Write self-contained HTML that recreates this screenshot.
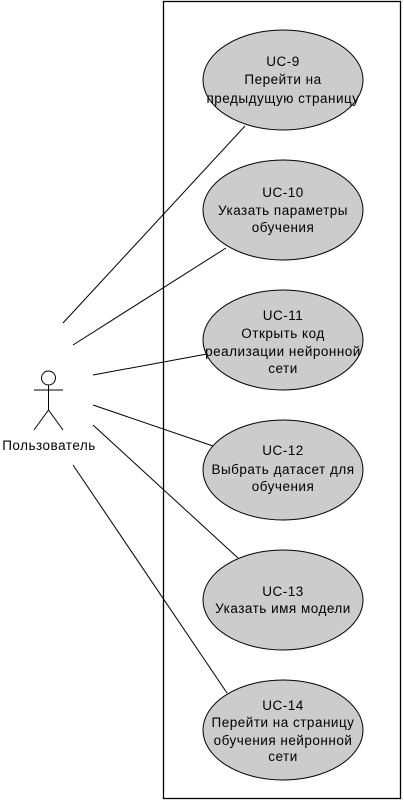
<!DOCTYPE html>
<html><head><meta charset="utf-8"><style>
html,body{margin:0;padding:0;background:#fff;}
svg{display:block;}
text{font-family:"Liberation Sans","DejaVu Sans",sans-serif;font-size:13.5px;letter-spacing:0.5px;fill:#000;}
</style></head><body>
<svg width="404" height="801" viewBox="0 0 404 801" xmlns="http://www.w3.org/2000/svg">
<rect x="163.5" y="1.5" width="237" height="797" fill="#fff" stroke="#000" stroke-width="1.3"/>
<g stroke="#000" stroke-width="1" fill="none">
<line x1="63" y1="323" x2="245" y2="126"/>
<line x1="73" y1="345" x2="226" y2="248"/>
<line x1="93" y1="375" x2="207" y2="354"/>
<line x1="93" y1="405" x2="213" y2="446"/>
<line x1="93" y1="425" x2="238" y2="558"/>
<line x1="73" y1="465" x2="227" y2="693"/>
</g>
<g fill="#cccccc" stroke="#000" stroke-width="1">
<ellipse cx="283" cy="80" rx="80" ry="50"/>
<ellipse cx="283" cy="210" rx="80" ry="50"/>
<ellipse cx="283" cy="340" rx="80" ry="50"/>
<ellipse cx="283" cy="470" rx="80" ry="50"/>
<ellipse cx="283" cy="600" rx="80" ry="50"/>
<ellipse cx="283" cy="730" rx="80" ry="50"/>
</g>
<g text-anchor="middle">
<text x="283" y="66">UC-9</text><text x="283" y="84">Перейти на</text><text x="283" y="103">предыдущую страницу</text>
<text x="283" y="197">UC-10</text><text x="283" y="215">Указать параметры</text><text x="283" y="232">обучения</text>
<text x="283" y="320">UC-11</text><text x="283" y="338">Открыть код</text><text x="283" y="356">реализации нейронной</text><text x="283" y="373">сети</text>
<text x="283" y="455">UC-12</text><text x="283" y="474">Выбрать датасет для</text><text x="283" y="491">обучения</text>
<text x="283" y="596">UC-13</text><text x="283" y="613">Указать имя модели</text>
<text x="283" y="710">UC-14</text><text x="283" y="727">Перейти на страницу</text><text x="283" y="745">обучения нейронной</text><text x="283" y="761">сети</text>
<text x="49" y="450">Пользователь</text>
</g>
<g stroke="#000" stroke-width="1" fill="#fff">
<circle cx="48.5" cy="378" r="7"/>
<line x1="48.5" y1="385" x2="48.5" y2="410"/>
<line x1="34" y1="390" x2="63" y2="390"/>
<line x1="48.5" y1="410" x2="34" y2="430"/>
<line x1="48.5" y1="410" x2="63" y2="430"/>
</g>
</svg>
</body></html>
